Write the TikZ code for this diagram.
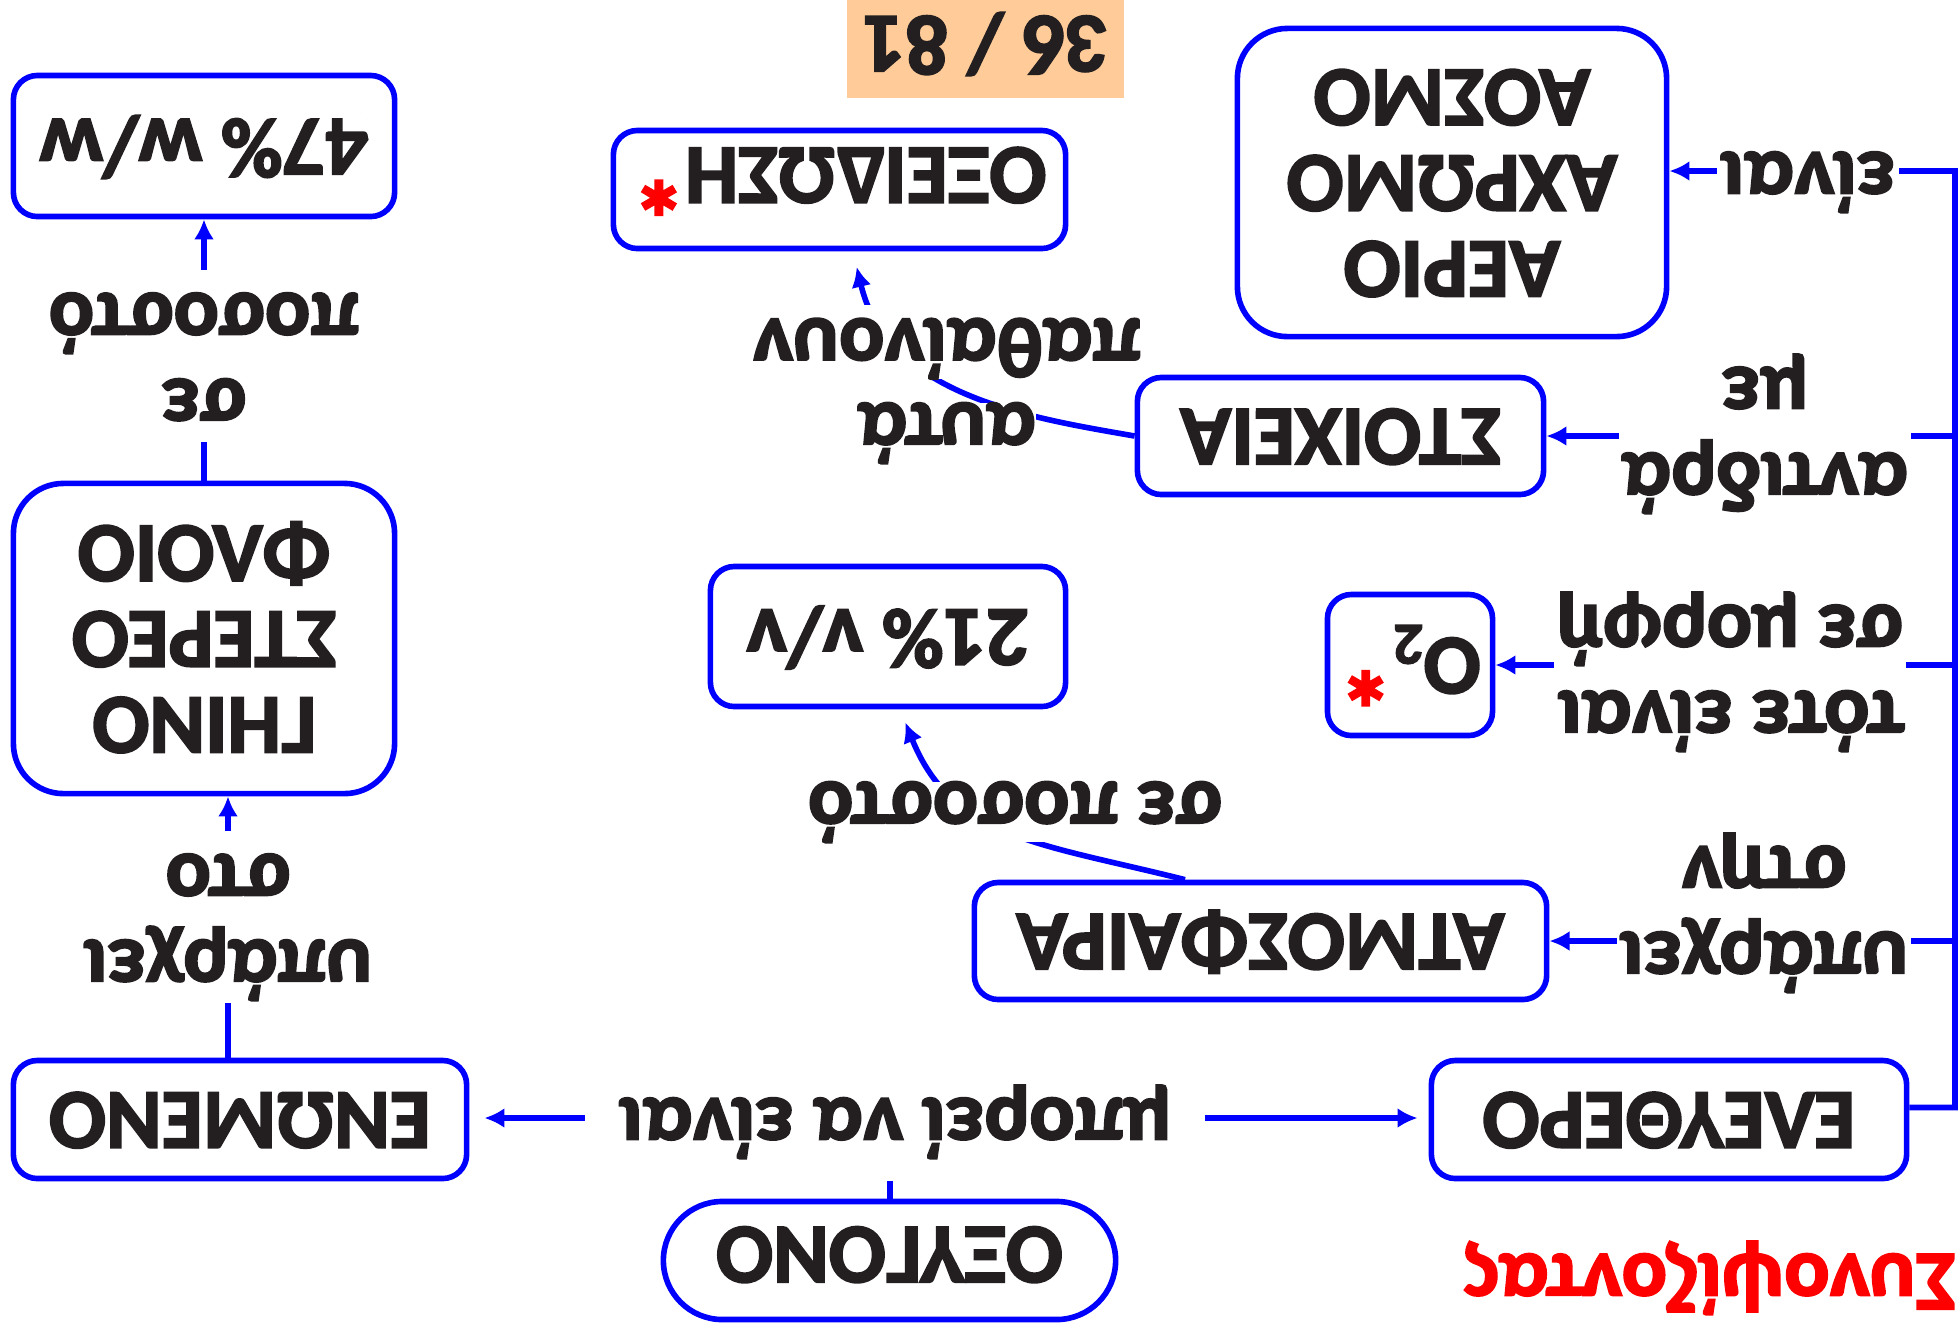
\documentclass[tikz,border=0pt]{standalone}
\usepackage{fontspec}
\setmainfont{Carlito}[BoldFeatures={FakeBold=2.5}]
\usepackage{array}
\usepackage{graphicx}
\usetikzlibrary{arrows.meta}
\definecolor{txt}{RGB}{35,31,32}
\definecolor{bl}{RGB}{0,0,255}
\definecolor{peach}{RGB}{255,204,153}
\newcommand\LXT[3]{\rotatebox[origin=c]{180}{\def\arraystretch{0}\begin{tabular}{@{}>{\rule[#1]{0pt}{#2}}c@{}}#3\end{tabular}}}
\newcommand\BXT[1]{\LXT{-4.6pt}{24.4pt}{#1}}
\newcommand\LBL[1]{\LXT{-6.6pt}{24.4pt}{#1}}
\newcommand\redast{\raisebox{-2.4pt}{\fontsize{30}{30}\selectfont\textcolor{red}{*}}}
\begin{document}
\begin{tikzpicture}[x=0.01cm, y=-0.01cm,
  every node/.style={font=\fontsize{24}{24.4}\selectfont\bfseries, text=txt},
  box/.style={draw=bl, line width=1.6pt, rounded corners=0.24cm, inner sep=0pt, fill=white},
  bigbox/.style={box, rounded corners=0.5cm},
  conn/.style={draw=bl, line width=1.6pt},
  arr/.style={conn, -{Latex[length=0.2cm,width=0.2cm]}},
  lbl/.style={fill=white, inner xsep=0.03cm, inner ysep=0pt}]
\fill[white] (0,0) rectangle (1960,1329);
\useasboundingbox (0,0) rectangle (1960,1329);

% boxes
\node[fill=peach, inner sep=0pt, minimum width=2.77cm, minimum height=1.0cm] (badge) at (985.5,48) {\BXT{\rule{0pt}{22.6pt}36 / 81}};
\node[box, minimum width=3.81cm, minimum height=1.41cm] (b47) at (204,146) {\BXT{47\% w/w}};
\node[box, minimum width=4.52cm, minimum height=1.18cm] (bOX) at (839.5,189.5) {\BXT{\rule{0pt}{28.3pt}ΟΞΕΙΔΩΣΗ\redast}};
\node[bigbox, minimum width=4.29cm, minimum height=3.08cm] (bAER) at (1452,182.5) {\BXT{ΑΕΡΙΟ\\ΑΧΡΩΜΟ\\ΑΟΣΜΟ}};
\node[box, minimum width=4.06cm, minimum height=1.17cm] (bST) at (1340.5,436) {\BXT{ΣΤΟΙΧΕΙΑ}};
\node[bigbox, minimum width=3.81cm, minimum height=3.10cm] (bGI) at (204,638.5) {\BXT{ΓΗΙΝΟ\\ΣΤΕΡΕΟ\\ΦΛΟΙΟ}};
\node[box, minimum width=3.55cm, minimum height=1.40cm] (b21) at (888,636.5) {\BXT{21\% v/v}};
\node[box, minimum width=1.65cm, minimum height=1.41cm] (bO2) at (1410,665) {\BXT{O\textsubscript{2}\redast}};
\node[box, minimum width=5.72cm, minimum height=1.17cm] (bATM) at (1260.5,941) {\BXT{ΑΤΜΟΣΦΑΙΡΑ}};
\node[box, minimum width=4.75cm, minimum height=1.18cm] (bEL) at (1669,1119.5) {\BXT{ΕΛΕΥΘΕΡΟ}};
\node[box, minimum width=4.53cm, minimum height=1.18cm] (bEN) at (240,1119.5) {\BXT{ΕΝΩΜΕΝΟ}};
\node[box, rounded corners=0.59cm, minimum width=4.52cm, minimum height=1.18cm] (bOXY) at (889.5,1260.5) {\BXT{\rule{0pt}{23.5pt}ΟΞΥΓΟΝΟ}};
\node[text=red] (title) at (1710,1281) {\BXT{Συνοψίζοντας}};

\node[inner xsep=0.33cm, inner ysep=0.19cm] (lmpo) at (895,1118) {\LBL{μπορεί να είναι}};

% coordinates
\coordinate (tTop) at (1955,171);
\coordinate (tBot) at (1955,1107.5);
\coordinate (c228) at (228,0);
\coordinate (c890) at (890,0);
\coordinate (c853) at (853,0);
\coordinate (c900) at (900,0);
\coordinate (c1185) at (1185,0);

% connectors
\draw[arr] ([yshift=0.12cm]bEL.east) -- (tBot) -- (tTop) -- (bAER.east |- tTop);
\draw[arr] (tTop |- bST.east) -- (bST.east);
\draw[arr] (tTop |- bO2.east) -- (bO2.east);
\draw[arr] (tTop |- bATM.east) -- (bATM.east);
\draw[arr] (bEN.north -| c228) -- (bGI.south -| c228);
\draw[arr] (bGI.north) -- (b47.south);
\draw[conn] (bOXY.north -| c890) -- (c890 |- lmpo.south);
\draw[arr, shorten >=0.15cm] (lmpo.west) -- (lmpo.west -| bEN.east);
\draw[arr, shorten >=0.11cm] (lmpo.east) -- (lmpo.east -| bEL.west);
\draw[arr, shorten >=0.16cm] (bST.west) .. controls (1032,418) and (887.5,396.5) .. (bOX.south -| c853);
\draw[arr, shorten >=0.14cm] (bATM.north -| c1185) .. controls (1039.4,843) and (952.4,838.8) .. (b21.south -| c900);

% labels
\node[lbl] (lein) at (1808,172) {\LBL{είναι}};
\node[lbl] (lant) at (1765,430) {\LBL{αντιδρά\\με}};
\node[lbl] (ltote) at (1730,668) {\LBL{τότε είναι\\σε μορφή}};
\node[lbl] (lyp1) at (1764,909) {\LBL{υπάρχει\\στην}};
\node[lbl] (lyp2) at (228,917) {\LBL{υπάρχει\\στο}};
\node[lbl] (lse) at (204,356) {\LBL{σε\\ποσοστό}};
\node[lbl, inner xsep=0pt] (lse2) at (1015,812) {\LXT{0pt}{15.3pt}{σε ποσοστό}};
\node[lbl, inner xsep=0pt] (laft) at (947,433) {\LXT{0pt}{16pt}{αυτά}};
\node[lbl, inner xsep=0pt] (lpath) at (947,342) {\LXT{-4pt}{16.5pt}{παθαίνουν}};
\end{tikzpicture}
\end{document}
